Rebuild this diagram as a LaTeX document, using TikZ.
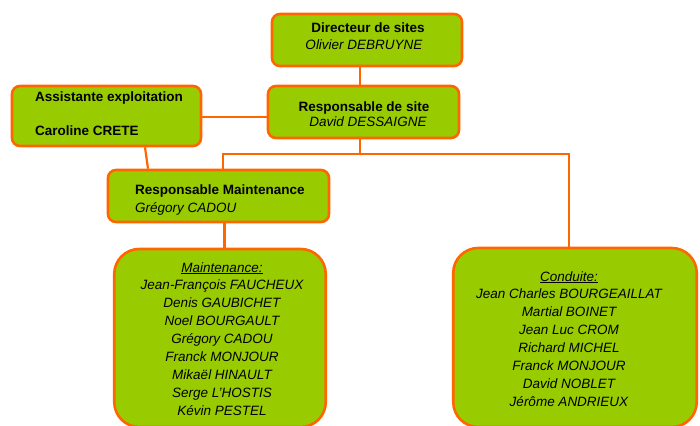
\documentclass[tikz,border=0pt]{standalone}
\usepackage{fontspec}
\setmainfont{Liberation Sans}
\definecolor{boxgreen}{HTML}{99CC00}
\definecolor{boxorange}{HTML}{FF6600}
\begin{document}
\begin{tikzpicture}[x=1pt,y=-1pt,
  box/.style={draw=boxorange, fill=boxgreen, line width=2.6pt, rounded corners=8pt, inner sep=0pt},
  bigbox/.style={box, rounded corners=25pt},
  link/.style={draw=boxorange, line width=2.2pt},
  lbl/.style={anchor=base, inner sep=0pt, font=\fontsize{13.5}{16}\selectfont},
  lbll/.style={lbl, anchor=base west}]
\useasboundingbox (0,0) rectangle (700,425);
\clip (0,0) rectangle (700,425);
% boxes
\node[box, minimum width=190pt, minimum height=52pt] (dir) at (367,40) {};
\node[box, minimum width=191pt, minimum height=52pt] (site) at (363.5,112) {};
\node[box, minimum width=189pt, minimum height=60pt] (asst) at (106.5,116) {};
\node[box, minimum width=221pt, minimum height=52pt] (maint) at (218.5,196) {};
\node[bigbox, minimum width=211.5pt, minimum height=178pt] (mteam) at (220,338) {};
\node[bigbox, minimum width=243.5pt, minimum height=179pt] (cteam) at (575,337.5) {};
% connectors
\coordinate (bus) at (360,154);
\draw[link] ([xshift=-7pt]dir.south) -- ([xshift=-7pt]dir.south |- site.north);
\draw[link] ([yshift=-1pt]asst.east) -- ([yshift=-1pt]asst.east -| site.west);
\draw[link] ([xshift=38.5pt]asst.south) -- ([xshift=-70.5pt]maint.north);
\draw[link] ([xshift=-3.5pt]site.south) -- (bus);
\draw[link] ([xshift=4.5pt]maint.north) |- (bus) -| ([xshift=-6pt]cteam.north);
\draw[link] ([xshift=6pt]maint.south) -- ([xshift=6pt]maint.south |- mteam.north);
% texts
\node[lbl] (dirt) at (368,33) {\bfseries Directeur de sites};
\node[lbl] (dirn) at (364,50) {\itshape Olivier DEBRUYNE};
\node[lbl] (sitet) at (364,111) {\bfseries Responsable de site};
\node[lbl] (siten) at (368,126) {\itshape David DESSAIGNE};
\node[lbll] (asstt) at (35,101) {\bfseries Assistante exploitation};
\node[lbll] (asstn) at (35,135) {\bfseries Caroline CRETE};
\node[lbll] (maintt) at (135,194) {\bfseries Responsable Maintenance};
\node[lbll] (maintn) at (135,212) {\itshape Grégory CADOU};
\node[lbl] (mh) at (222,272) {\itshape\underline{Maintenance:}};
\foreach \name [count=\i] in {Jean-François FAUCHEUX, Denis GAUBICHET, Noel BOURGAULT, Grégory CADOU, Franck MONJOUR, Mikaël HINAULT, Serge L'HOSTIS, Kévin PESTEL}
  \node[lbl] (m\i) at (222,272+17.9*\i) {\itshape \name};
\node[lbl] (ch) at (569,281) {\itshape\underline{Conduite:}};
\foreach \name [count=\i] in {Jean Charles BOURGEAILLAT, Martial BOINET, Jean Luc CROM, Richard MICHEL, Franck MONJOUR, David NOBLET, Jérôme ANDRIEUX}
  \node[lbl] (c\i) at (569,281+17.9*\i) {\itshape \name};
\end{tikzpicture}
\end{document}
